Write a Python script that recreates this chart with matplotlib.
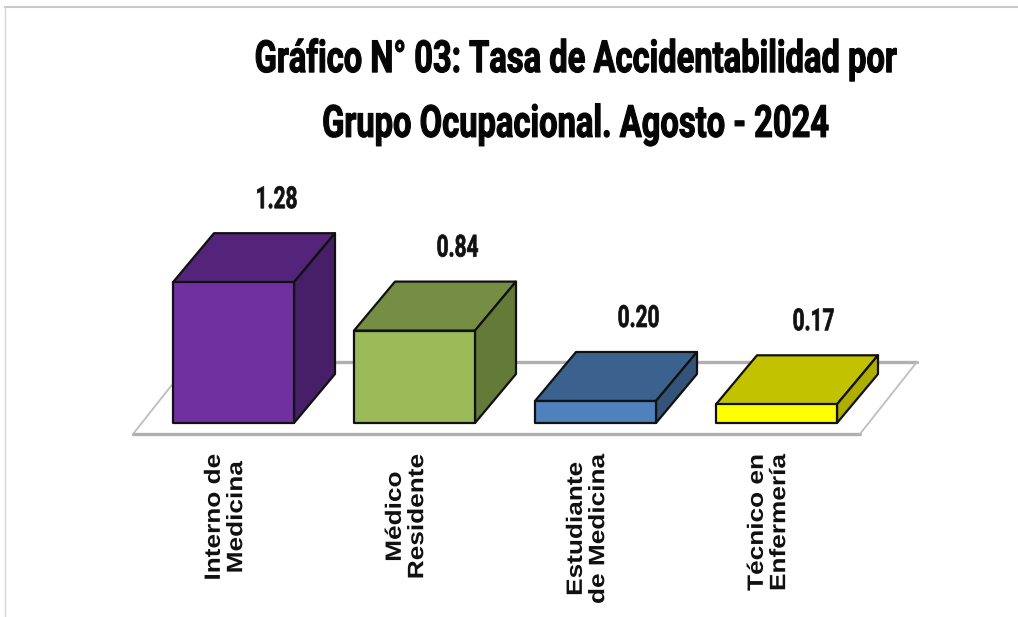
import matplotlib
matplotlib.use("Agg")
import matplotlib.pyplot as plt
from matplotlib.patches import Polygon
from matplotlib.lines import Line2D
from matplotlib.patheffects import AbstractPathEffect
from matplotlib.transforms import Affine2D

categories = ["Interno de\nMedicina", "Médico\nResidente", "Estudiante\nde Medicina", "Técnico en\nEnfermería"]
values = [1.28, 0.84, 0.20, 0.17]
value_labels = ["1.28", "0.84", "0.20", "0.17"]
front_colors = ["#7030A0", "#9BBB59", "#4F81BD", "#FFFF00"]
top_colors = ["#54247A", "#768E43", "#3B618E", "#C2C200"]
side_colors = ["#471F69", "#647A38", "#335379", "#AEAE00"]
title = "Gráfico N° 03: Tasa de Accidentabilidad por\nGrupo Ocupacional. Agosto - 2024"

W, H = 1018, 617
PX_PER_CAT = 181.0
PX_PER_UNIT = 110.0
X0_PX, Y0_PX = 233.5, 423.0
BAR_W = 121 / PX_PER_CAT
DX, DY = 41 / PX_PER_CAT, 49 / PX_PER_UNIT


class Stretch(AbstractPathEffect):
    """Draw a real text with its glyph outlines scaled about a display point."""
    def __init__(self, sx, sy, cx, cy, stroke=0.0):
        super().__init__()
        self.sx, self.sy, self.cx, self.cy, self.stroke = sx, sy, cx, cy, stroke

    def draw_path(self, renderer, gc, tpath, affine, rgbFace=None):
        t = affine + Affine2D().translate(-self.cx, -self.cy).scale(self.sx, self.sy).translate(self.cx, self.cy)
        gc0 = renderer.new_gc()
        gc0.copy_properties(gc)
        gc0.set_linewidth(self.stroke)
        renderer.draw_path(gc0, tpath, t, rgbFace)
        gc0.restore()


fig = plt.figure(figsize=(W / 100, H / 100), dpi=100, facecolor="white")
ax = fig.add_axes([0, 0, 1, 1])
ax.set_xlim(-X0_PX / PX_PER_CAT, (W - X0_PX) / PX_PER_CAT)
ax.set_ylim(-(H - Y0_PX) / PX_PER_UNIT, Y0_PX / PX_PER_UNIT)
ax.axis("off")

fig.add_artist(Line2D([5 / W, 1], [1 - 7 / H, 1 - 7 / H], color="#C8C8C8", lw=1.5))
fig.add_artist(Line2D([5 / W, 5 / W], [0, 1 - 7 / H], color="#D8D8D8", lw=1.0))

# floor
fl, fr = -0.5 - 0.055, 3.5 - 0.039
fb, ftop = -0.10, 0.555
fshift = 57 / PX_PER_CAT
ax.add_patch(Polygon([(fl, fb), (fr, fb), (fr + fshift, ftop), (fl + fshift, ftop)],
                     closed=True, fc="white", ec="none", zorder=1))
ax.plot([fl, fr], [fb, fb], color="#B0B0B0", lw=2.4, zorder=1.5, solid_capstyle="round")
ax.plot([fl + fshift, fr + fshift], [ftop, ftop], color="#B0B0B0", lw=2.4, zorder=1.5, solid_capstyle="round")
ax.plot([fl, fl + fshift], [fb, ftop], color="#BEBEBE", lw=1.3, zorder=1.5)
ax.plot([fr, fr + fshift], [fb, ftop], color="#BEBEBE", lw=1.3, zorder=1.5)

for i, v in enumerate(values):
    l, r = i - BAR_W / 2, i + BAR_W / 2
    kw = dict(closed=True, ec="#111111", lw=1.6, joinstyle="round", zorder=3)
    ax.add_patch(Polygon([(l, v), (r, v), (r + DX, v + DY), (l + DX, v + DY)], fc=top_colors[i], **kw))
    ax.add_patch(Polygon([(r, 0), (r + DX, DY), (r + DX, v + DY), (r, v)], fc=side_colors[i], **kw))
    ax.add_patch(Polygon([(l, 0), (r, 0), (r, v), (l, v)], fc=front_colors[i], **kw))

    nudge = -6 if i == 3 else 0
    px, py = ax.transData.transform((i, v + DY))
    t = ax.annotate(value_labels[i], xy=(i, v + DY), xytext=(43 + nudge, 34), textcoords="offset pixels",
                    ha="center", va="center", fontsize=22, fontweight="bold",
                    family="Roboto", color="#111111", zorder=4)
    t.set_path_effects([Stretch(0.68, 1.0, px + 43 + nudge, py + 34, 0.5)])

    bx, by = ax.transData.transform((i, 0))
    t = ax.annotate(categories[i], xy=(i, 0), xytext=(-8, -31), textcoords="offset pixels",
                    rotation=90, ha="center", va="top", multialignment="center",
                    fontsize=16, fontweight="bold", family="Liberation Sans",
                    linespacing=1.08, color="#111111", zorder=4)
    t.set_path_effects([Stretch(1.0, 1.18, bx - 8, by - 31)])

tx, ty = 576, H - 92
t = ax.text(tx / W, ty / H, title, transform=ax.transAxes, ha="center", va="center",
            fontsize=32, fontweight="bold", family="Roboto", linespacing=1.69, color="#050505")
t.set_path_effects([Stretch(0.735, 1.0, tx, ty, 0.8)])

fig.savefig("out.png", dpi=100)
